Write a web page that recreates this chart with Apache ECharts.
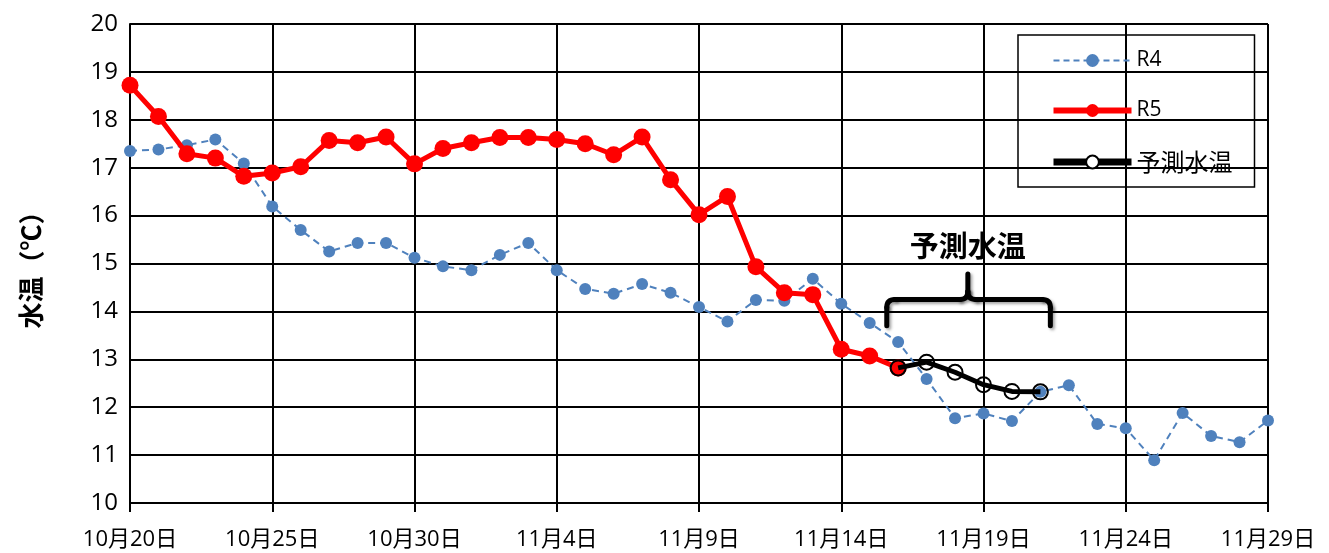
<!DOCTYPE html>
<html>
<head>
<meta charset="utf-8">
<script src="https://cdn.jsdelivr.net/npm/echarts@6/dist/echarts.min.js"></script>
<style>
  html, body { margin: 0; padding: 0; background: #fff; }
  #chart { width: 1329px; height: 553px; }
</style>
</head>
<body>
<div id="chart"></div>
<script>
// 日付ラベル 10/20 ～ 11/29
const days = [
  "10月20日", "10月21日", "10月22日", "10月23日", "10月24日", "10月25日", "10月26日", "10月27日",
  "10月28日", "10月29日", "10月30日", "10月31日", "11月1日", "11月2日", "11月3日", "11月4日",
  "11月5日", "11月6日", "11月7日", "11月8日", "11月9日", "11月10日", "11月11日", "11月12日",
  "11月13日", "11月14日", "11月15日", "11月16日", "11月17日", "11月18日", "11月19日", "11月20日",
  "11月21日", "11月22日", "11月23日", "11月24日", "11月25日", "11月26日", "11月27日", "11月28日",
  "11月29日"
];

// R4 (昨年)
const r4 = [
  17.35, 17.38, 17.47, 17.59, 17.09, 16.19, 15.70, 15.25, 15.43, 15.43,
  15.12, 14.94, 14.86, 15.18, 15.43, 14.86, 14.47, 14.37, 14.57, 14.39,
  14.09, 13.79, 14.24, 14.22, 14.68, 14.16, 13.76, 13.36, 12.59, 11.77,
  11.87, 11.71, 12.32, 12.46, 11.65, 11.56, 10.89, 11.88, 11.40, 11.27,
  11.72
];

// R5 (今年, 11/16 まで)
const r5 = [
  18.72, 18.07, 17.29, 17.20, 16.82, 16.89, 17.02, 17.57, 17.52, 17.64,
  17.08, 17.40, 17.52, 17.63, 17.63, 17.59, 17.50, 17.27, 17.64, 16.75,
  16.02, 16.40, 14.93, 14.39, 14.35, 13.21, 13.07, 12.82
];

// 予測水温 (11/16 ～ 11/21)
const forecastStart = 27;
const forecast = [12.82, 12.94, 12.73, 12.47, 12.33, 12.32];

// 括弧の位置 (データ座標)
const braceLeft = 26.6, braceRight = 32.35, braceMid = 29.45;
const braceTop = 14.25, braceBottom = 13.7, bracePeak = 14.78;

const pad = (arr, start, len) => {
  const out = new Array(len).fill(null);
  arr.forEach((v, i) => { out[start + i] = v; });
  return out;
};

const numFont = "'Open Sans', 'Noto Sans CJK JP', sans-serif";
const jpFont = "'Noto Sans CJK JP', sans-serif";

const chart = echarts.init(document.getElementById("chart"));

const option = {
  animation: false,
  backgroundColor: "#fff",
  grid: { left: 130, right: 61, top: 24, bottom: 50 },
  legend: {
    orient: "vertical",
    left: 1018,
    top: 35,
    borderColor: "#000",
    borderWidth: 1.5,
    padding: [15, 22, 13, 32],
    itemWidth: 78,
    itemHeight: 16,
    itemGap: 29,
    textStyle: {
      color: "#000",
      rich: {
        en: { fontSize: 21, fontFamily: numFont, color: "#000" },
        jp: { fontSize: 24, fontFamily: jpFont, color: "#000" }
      }
    },
    formatter: (name) => (name === "予測水温" ? "{jp|" + name + "}" : "{en|" + name + "}"),
    data: [
      { name: "R4", lineStyle: { width: 2, type: [6, 4] } },
      { name: "R5", lineStyle: { width: 6 } },
      {
        name: "予測水温",
        itemStyle: { color: "#fff", borderColor: "#000", borderWidth: 2 },
        lineStyle: { width: 7, color: "#000" }
      }
    ]
  },
  xAxis: {
    type: "category",
    data: days,
    boundaryGap: false,
    axisLine: { lineStyle: { color: "#000", width: 2 } },
    axisTick: { show: true, interval: 4, length: 9, lineStyle: { color: "#000", width: 2 } },
    axisLabel: { interval: 4, margin: 26, fontSize: 22, color: "#000", fontFamily: numFont },
    splitLine: { show: true, interval: 4, lineStyle: { color: "#000", width: 2 } }
  },
  yAxis: {
    type: "value",
    min: 10,
    max: 20,
    interval: 1,
    name: "水温（℃）",
    nameLocation: "middle",
    nameGap: 86,
    nameTextStyle: { fontSize: 26, fontWeight: "bold", color: "#000", fontFamily: jpFont },
    axisLine: { show: true, lineStyle: { color: "#000", width: 2 } },
    axisTick: { show: false },
    axisLabel: { fontSize: 24, color: "#000", margin: 12, fontFamily: numFont },
    splitLine: { show: true, lineStyle: { color: "#000", width: 2 } }
  },
  series: [
    {
      name: "R4",
      type: "line",
      data: r4,
      symbol: "circle",
      symbolSize: 12,
      itemStyle: { color: "#4F81BD" },
      lineStyle: { color: "#4F81BD", width: 2, type: [7, 5] },
      z: 2
    },
    {
      name: "R5",
      type: "line",
      data: pad(r5, 0, days.length),
      symbol: "circle",
      symbolSize: 17,
      itemStyle: { color: "#FF0000" },
      lineStyle: { color: "#FF0000", width: 5 },
      z: 3
    },
    {
      name: "予測水温",
      type: "line",
      data: pad(forecast, forecastStart, days.length),
      symbol: "circle",
      symbolSize: 15,
      itemStyle: { color: "rgba(0,0,0,0)", borderColor: "#000", borderWidth: 2 },
      lineStyle: { color: "#000", width: 5 },
      z: 4
    }
  ]
};

chart.setOption(option);

// 括弧と「予測水温」注記 (カテゴリ軸の間は線形補間で求める)
const px = (x, y) => {
  const i0 = Math.floor(x), t = x - i0;
  const a = chart.convertToPixel({ gridIndex: 0 }, [i0, y]);
  const b = chart.convertToPixel({ gridIndex: 0 }, [i0 + 1, y]);
  return [a[0] + (b[0] - a[0]) * t, a[1]];
};
const [lx, by] = px(braceLeft, braceBottom);
const [rx, ty] = px(braceRight, braceTop);
const [mx, py] = px(braceMid, bracePeak);
const r = 8;

const braceStyle = {
  stroke: "#000",
  lineWidth: 5,
  lineCap: "round",
  shadowBlur: 3,
  shadowColor: "rgba(0,0,0,0.35)",
  shadowOffsetX: 2,
  shadowOffsetY: 2
};
const seg = (x1, y1, x2, y2) => ({ type: "line", shape: { x1, y1, x2, y2 }, style: braceStyle, z: 10 });
const curve = (x1, y1, cx, cy, x2, y2) => ({
  type: "bezierCurve",
  shape: { x1, y1, cpx1: cx, cpy1: cy, x2, y2 },
  style: Object.assign({ fill: null }, braceStyle),
  z: 10
});

chart.setOption({
  graphic: [
    seg(lx, by, lx, ty + r),
    curve(lx, ty + r, lx, ty, lx + r, ty),
    seg(lx + r, ty, mx - r, ty),
    curve(mx - r, ty, mx, ty, mx, ty - r),
    curve(mx, ty - r, mx, ty, mx + r, ty),
    seg(mx, ty - r, mx, py),
    seg(mx + r, ty, rx - r, ty),
    curve(rx - r, ty, rx, ty, rx, ty + r),
    seg(rx, ty + r, rx, by),
    {
      type: "text",
      x: mx,
      y: py - 28,
      style: {
        text: "予測水温",
        fill: "#000",
        fontSize: 29,
        fontWeight: "bold",
        fontFamily: jpFont,
        align: "center",
        verticalAlign: "middle"
      },
      z: 10
    }
  ]
});
</script>
</body>
</html>
